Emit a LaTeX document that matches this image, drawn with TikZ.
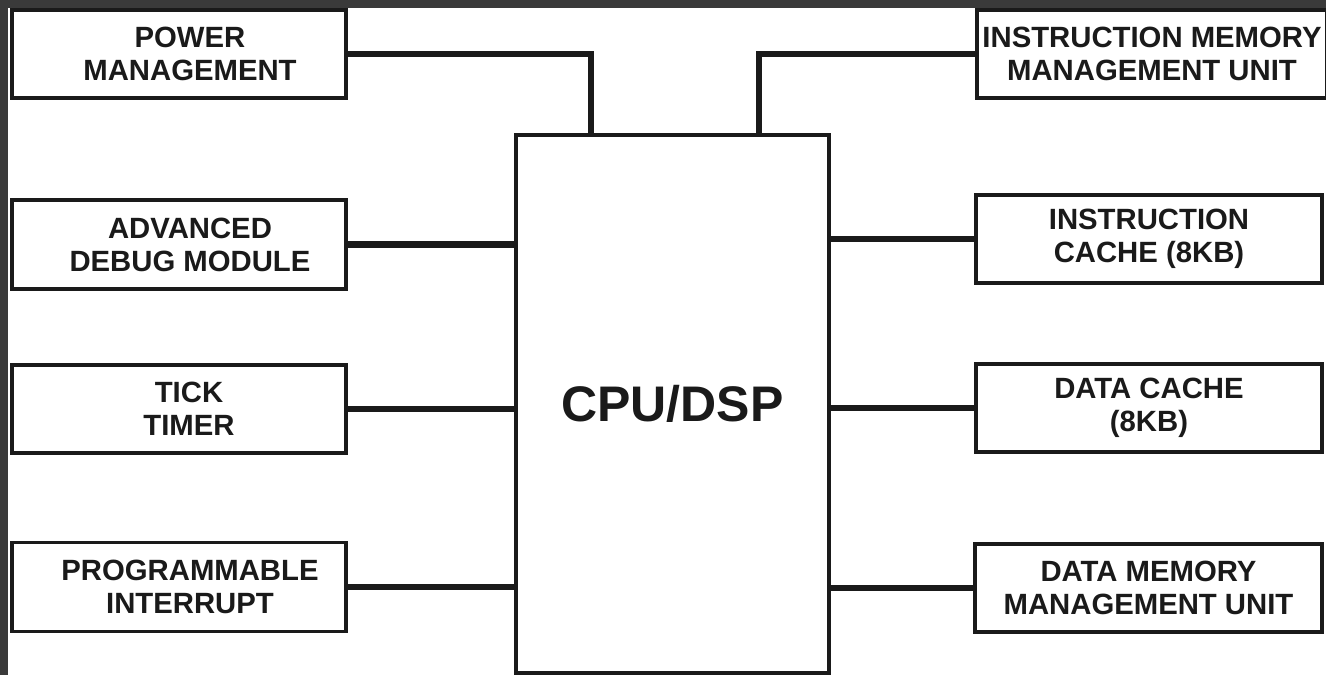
\documentclass[tikz,border=0pt]{standalone}
\usepackage{fontspec}
\setmainfont{Liberation Sans}
\definecolor{frame}{HTML}{3A3A3A}
\definecolor{ink}{HTML}{1A1A1A}
\begin{document}
\begin{tikzpicture}[x=1pt,y=-1pt,
  blk/.style={draw=ink, line width=3.5pt, fill=white, rectangle, inner sep=0pt,
    align=center, text=ink, font=\fontsize{29.3}{33}\selectfont\bfseries},
  lblk/.style={blk, minimum width=334pt},
  ltxt/.style={align=center, text=ink, inner sep=0pt, font=\fontsize{29.3}{33}\selectfont\bfseries},
  cpubox/.style={draw=ink, line width=4pt, fill=white, rectangle, inner sep=0pt,
    text=ink, font=\fontsize{50}{56}\selectfont\bfseries},
  wire/.style={draw=ink, line width=6.5pt}]
\useasboundingbox (0,0) rectangle (1326,675);
\fill[frame] (0,0) rectangle (1326,675);
\fill[white] (8,8) rectangle (1326,675);
% CPU
\node[cpubox, minimum width=313pt, minimum height=538pt] (cpu) at (672.5,404) {CPU/DSP};
% left blocks
\node[lblk, minimum height=88pt, label={[ltxt, xshift=11pt]center:POWER\\MANAGEMENT}] (pm) at (179,54) {};
\node[lblk, minimum height=89pt, label={[ltxt, xshift=11pt]center:ADVANCED\\DEBUG MODULE}] (adm) at (179,244.5) {};
\node[lblk, minimum height=88pt, label={[ltxt, xshift=10pt]center:TICK\\TIMER}] (tt) at (179,409) {};
\node[lblk, minimum height=89pt, label={[ltxt, xshift=11pt]center:PROGRAMMABLE\\INTERRUPT}] (pi) at (179,587) {};
% right blocks
\node[blk, minimum width=350pt, minimum height=88pt] (immu) at (1152,54) {INSTRUCTION MEMORY\\MANAGEMENT UNIT};
\node[blk, minimum width=346pt, minimum height=88pt] (ic) at (1149,239) {INSTRUCTION\\CACHE (8KB)};
\node[blk, minimum width=346pt, minimum height=88pt] (dc) at (1149,408) {DATA CACHE\\(8KB)};
\node[blk, minimum width=347pt, minimum height=88pt] (dmmu) at (1148.5,588) {DATA MEMORY\\MANAGEMENT UNIT};
% connectors
\coordinate (cpuA) at ([xshift=77pt]cpu.north west);
\coordinate (cpuB) at ([xshift=-72pt]cpu.north east);
\draw[wire] (pm.east) -| (cpuA);
\draw[wire] (immu.west) -| (cpuB);
\draw[wire] (adm.east) -- (adm.east -| cpu.west);
\draw[wire] (tt.east) -- (tt.east -| cpu.west);
\draw[wire] (pi.east) -- (pi.east -| cpu.west);
\draw[wire] (ic.west) -- (ic.west -| cpu.east);
\draw[wire] (dc.west) -- (dc.west -| cpu.east);
\draw[wire] (dmmu.west) -- (dmmu.west -| cpu.east);
% redraw CPU border on top of wires
\node[cpubox, fill=none, minimum width=313pt, minimum height=538pt] at (cpu) {};
\end{tikzpicture}
\end{document}
